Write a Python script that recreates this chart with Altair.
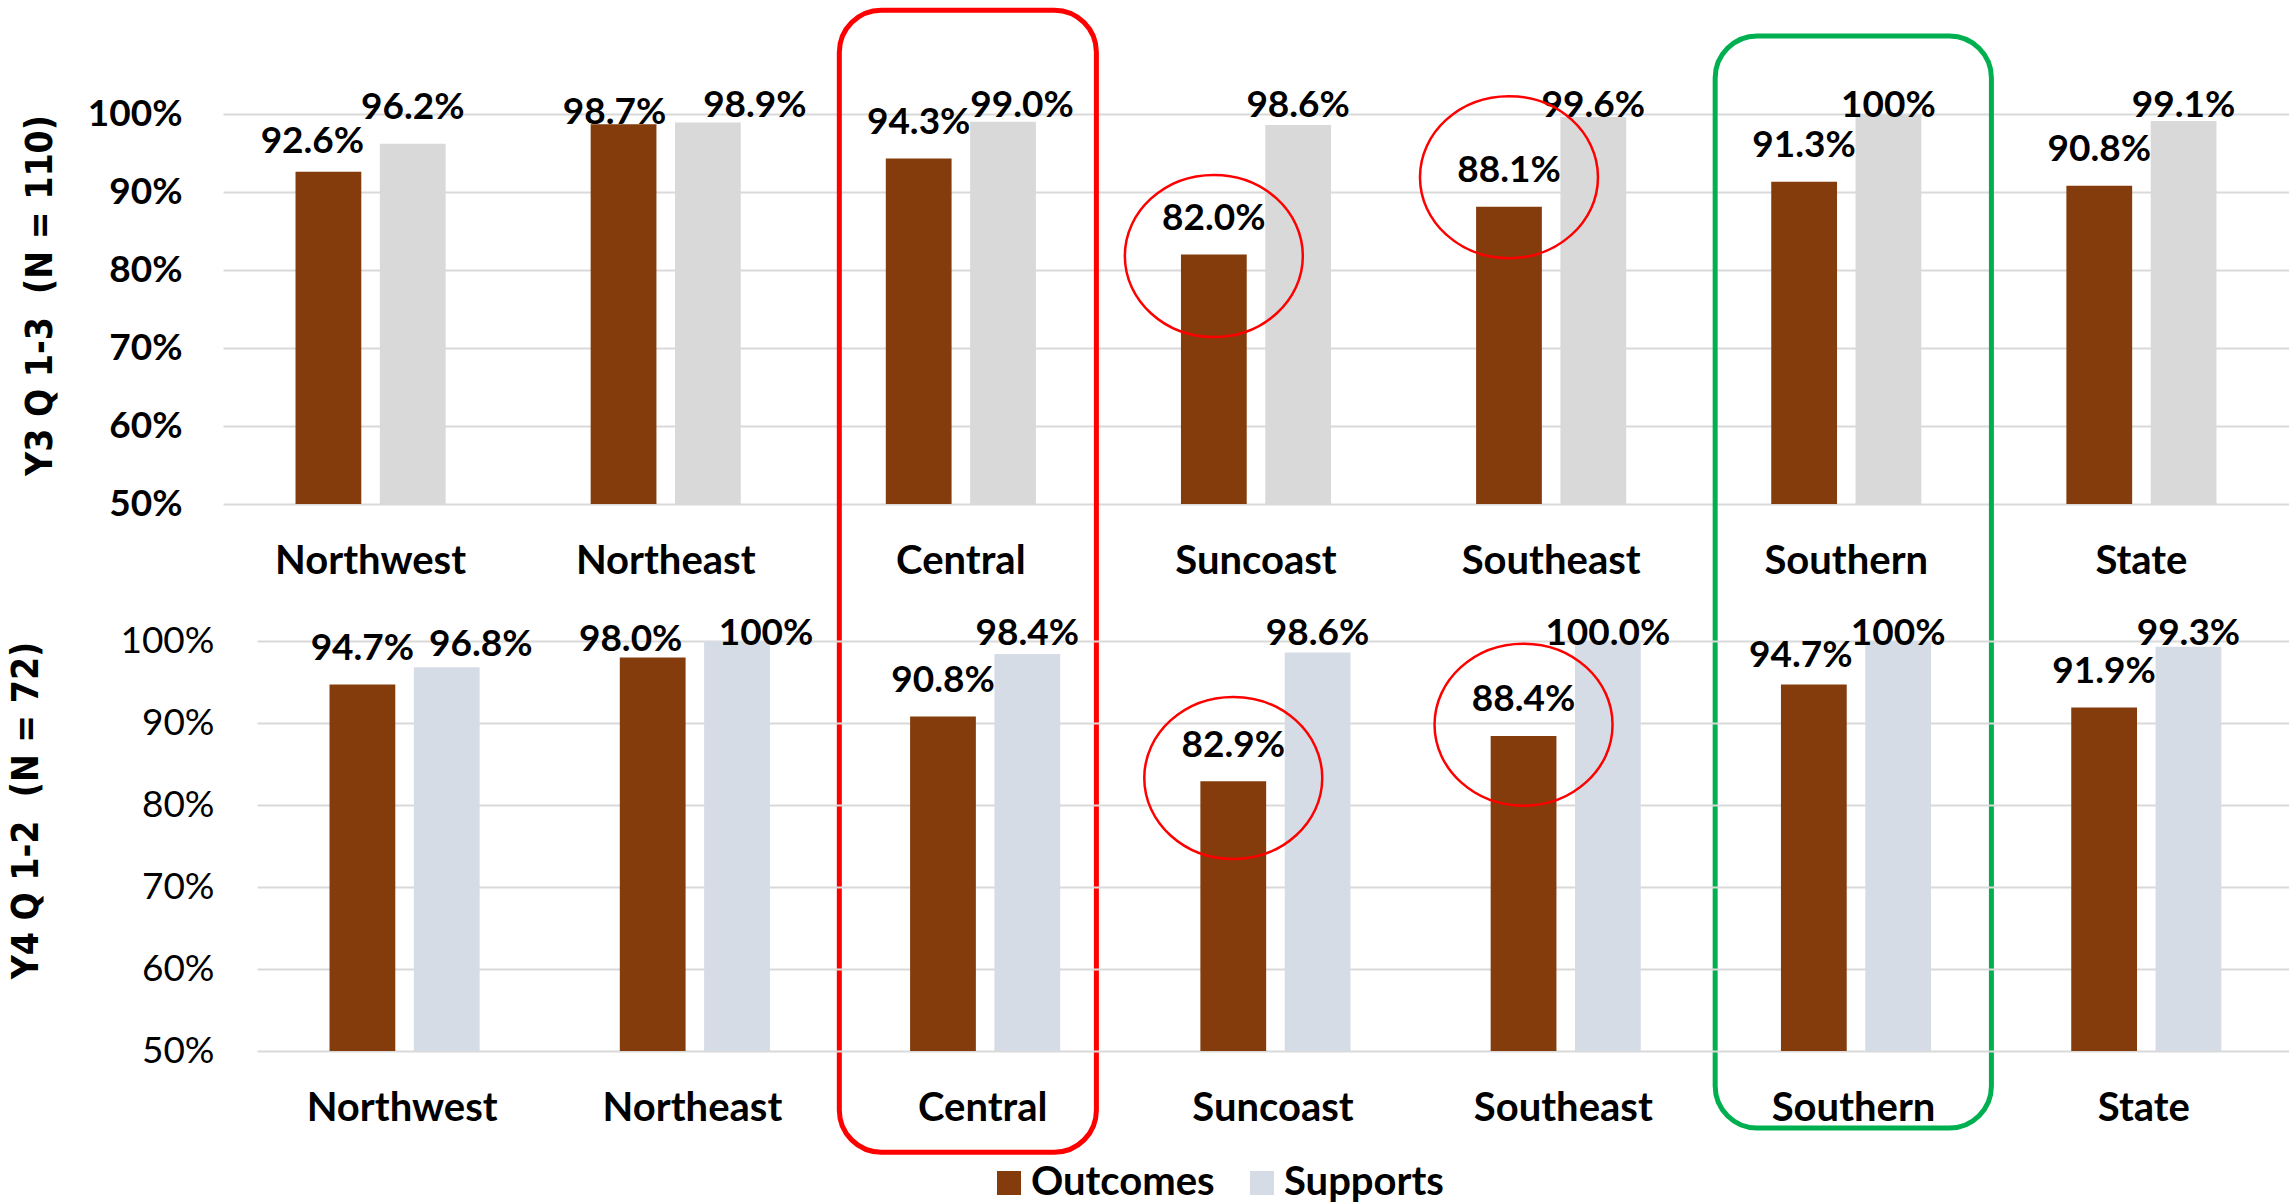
import altair as alt
import pandas as pd

# ---- data -------------------------------------------------------------
regions = ["Northwest", "Northeast", "Central", "Suncoast", "Southeast", "Southern", "State"]
series = ["Outcomes", "Supports"]

y3_outcomes = [0.926, 0.987, 0.943, 0.820, 0.881, 0.913, 0.908]
y3_supports = [0.962, 0.989, 0.990, 0.986, 0.996, 1.000, 0.991]
y4_outcomes = [0.947, 0.980, 0.908, 0.829, 0.884, 0.947, 0.919]
y4_supports = [0.968, 1.000, 0.984, 0.986, 1.000, 1.000, 0.993]

# regions whose 100% support value is printed without a decimal
y3_whole = ["Southern"]
y4_whole = ["Northeast", "Southern"]

# hand-placed value labels: (region, series) -> (dx, dy) in pixels
y3_nudge = {("Northwest", "Outcomes"): (-16, 6), ("Northeast", "Outcomes"): (-9, 7),
            ("Northeast", "Supports"): (47, 0), ("Central", "Supports"): (19, 0)}
y4_nudge = {("Northwest", "Supports"): (34, 11), ("Northeast", "Outcomes"): (-22, 6),
            ("Northeast", "Supports"): (29, 0), ("Southern", "Outcomes"): (-13, 7)}

# circled outcome bars: region -> (centre of the ring on the value axis, pixel shift)
y3_circled = {"Suncoast": (0.818, -4), "Southeast": (0.919, -15)}
y4_circled = {"Suncoast": (0.833, -6), "Southeast": (0.898, 0)}

# regions boxed across both panels (extent in the upper panel's value units)
box_regions = ["Central", "Southern"]
box_top = [1.133, 1.100]
box_bottom = [-0.331, -0.300]

# ---- styling ----------------------------------------------------------
FONT = "Lato"
TITLE_FONT = "DejaVu Sans Condensed"
BROWN = "#843C0C"
GREY = "#D9D9D9"
BLUE_GREY = "#D6DCE5"
RED = "#FF0000"
GREEN = "#00B050"
W = 2066
ELLIPSE = "M -1 0 A 1 0.91 0 1 0 1 0 A 1 0.91 0 1 0 -1 0 Z"
TICKS = [0.5, 0.6, 0.7, 0.8, 0.9, 1.0]


def frame(outcomes, supports, whole, nudge):
    rows = []
    for i, r in enumerate(regions):
        for s, v in zip(series, (outcomes[i], supports[i])):
            text = "100%" if (s == "Supports" and r in whole) else f"{v * 100:.1f}%"
            dx, dy = nudge.get((r, s), (0, 0))
            rows.append(dict(region=r, series=s, value=v, label=text, ndx=dx, ndy=dy))
    return pd.DataFrame(rows)


def panel(outcomes, supports, whole, nudge, circled, height, x_range, supports_color,
          lift, cap, tick_weight, tick_pad, title, title_x, title_y, legend, x_pad, boxes=None):
    df = frame(outcomes, supports, whole, nudge)

    x_axis = alt.Axis(title=None, domain=False, ticks=False, grid=False, labelAngle=0,
                      labelFont=FONT, labelFontSize=40, labelFontWeight="bold",
                      labelColor="black", labelPadding=x_pad, labelLimit=0)
    y_axis = alt.Axis(values=TICKS, format=".0%", grid=True, gridColor=GREY, gridWidth=2,
                      domain=False, ticks=False, labelFont=FONT, labelFontSize=37,
                      labelFontWeight=tick_weight, labelColor="black", labelPadding=tick_pad,
                      title=title, titleFont=TITLE_FONT, titleFontSize=37, titleFontWeight="bold",
                      titleColor="black", titleAngle=270, titleX=title_x, titleY=title_y,
                      titleBaseline="middle", titleAlign="center")
    x_scale = alt.Scale(domain=regions, paddingInner=0, paddingOuter=0, range=x_range)
    y_scale = alt.Scale(domain=[0.5, 1.0], nice=False, zero=False)
    off_scale = alt.Scale(domain=series, paddingInner=0.22, paddingOuter=0.86)

    x = alt.X("region:N", sort=regions, scale=x_scale, axis=x_axis)
    xoff = alt.XOffset("series:N", sort=series, scale=off_scale)

    def yenc(field):
        return alt.Y(f"{field}:Q", scale=y_scale, axis=y_axis)

    bars = alt.Chart(df).mark_bar().encode(
        x=x, xOffset=xoff, y=yenc("value"), y2=alt.datum(0.5),
        color=alt.Color("series:N", sort=series,
                        scale=alt.Scale(domain=series, range=[BROWN, supports_color]),
                        legend=legend),
    )

    labels = alt.Chart(df).transform_calculate(
        pos=f"min(datum.value + {lift}, {cap})"
    ).mark_text(
        font=FONT, fontSize=37, fontWeight="bold", color="black", baseline="alphabetic",
        align="center", dx=alt.ExprRef("datum.ndx"), dy=alt.ExprRef("datum.ndy"),
    ).encode(x=x, xOffset=xoff, y=yenc("pos"), text="label:N")

    ring_df = pd.DataFrame({"region": list(circled.keys()),
                            "series": ["Outcomes"] * len(circled),
                            "value": [c[0] for c in circled.values()],
                            "shift": [c[1] for c in circled.values()]})
    rings = alt.Chart(ring_df).mark_point(
        shape=ELLIPSE, size=31684, filled=False, color=RED, strokeWidth=2.5, opacity=1,
        xOffset=alt.ExprRef("datum.shift"),
    ).encode(x=x, xOffset=xoff, y=yenc("value"))

    layers = []
    if boxes is not None:
        box_df = pd.DataFrame({"region": box_regions, "top": box_top, "bottom": box_bottom})
        for reg, colour, band in zip(box_regions, [RED, GREEN], [0.871, 0.936]):
            layers.append(
                alt.Chart(box_df).transform_filter(alt.datum.region == reg).mark_bar(
                    width={"band": band}, cornerRadius=42, fillOpacity=0, stroke=colour,
                    strokeWidth=5, xOffset=7,
                ).encode(x=x, y=yenc("top"), y2="bottom:Q")
            )
    layers += [bars, labels, rings]
    return alt.layer(*layers).properties(width=W, height=height)


top = panel(y3_outcomes, y3_supports, y3_whole, y3_nudge, y3_circled, 390, [0, W], GREY,
            0.0317, 0.9965, "bold", 41, "Y3 Q 1-3\u00a0 (N = 110)", -183, 181, None, 37,
            boxes=True)

legend = alt.Legend(title=None, orient="none", legendX=766, legendY=522,
                    direction="horizontal", symbolType="square", symbolSize=576,
                    symbolStrokeWidth=0, labelFont=FONT, labelFontSize=40,
                    labelFontWeight="bold", labelColor="black", labelOffset=2,
                    labelLimit=0, columnPadding=27, padding=0)

bottom = panel(y4_outcomes, y4_supports, y4_whole, y4_nudge, y4_circled, 410, [34, W],
               BLUE_GREY, 0.0301, 0.9955, "normal", 9, "Y4 Q 1-2\u00a0 (N = 72)", -197, 169,
               legend, 37)

chart = alt.vconcat(top, bottom, spacing=137, bounds="flush").resolve_scale(
    color="independent"
).properties(
    padding={"left": 7, "top": 7, "right": 0, "bottom": 0},
    background="white",
).configure_view(strokeWidth=0)

chart.save("out.html", embed_options={"renderer": "svg", "actions": False})
